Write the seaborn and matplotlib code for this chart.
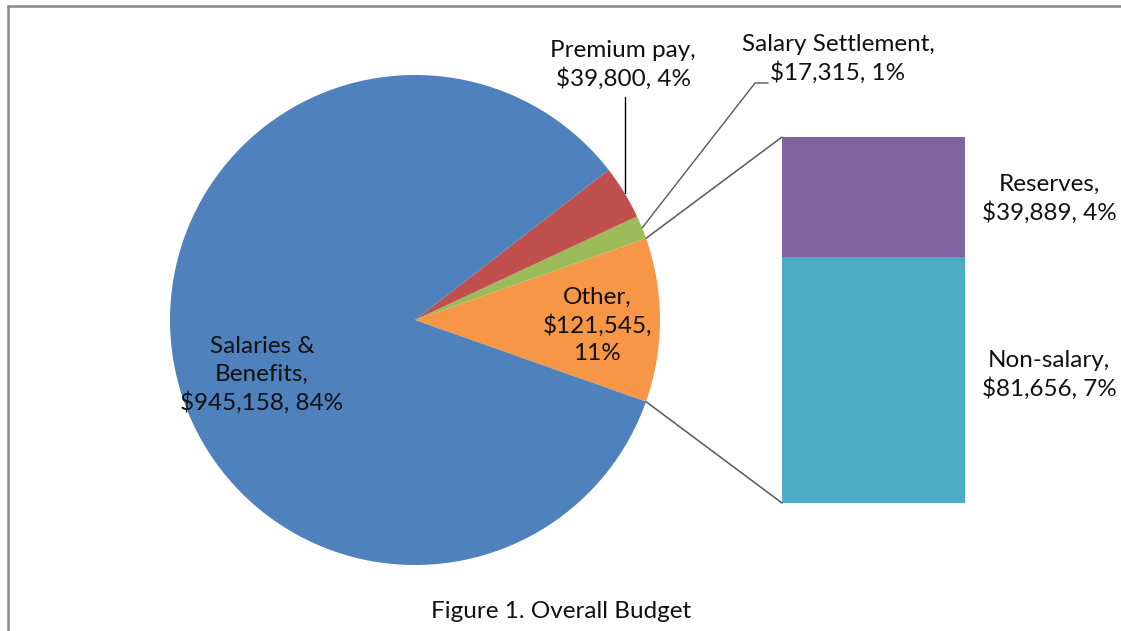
import matplotlib
matplotlib.use("Agg")
import matplotlib.pyplot as plt
from matplotlib.patches import ConnectionPatch
from matplotlib.lines import Line2D
import numpy as np
import pandas as pd
import seaborn as sns

# ---- data ----
pie_labels = ["Other", "Salary Settlement", "Premium pay", "Salaries & Benefits"]
pie_values = [121545, 17315, 39800, 945158]
pie_colors = ["#F79646", "#9BBB59", "#C0504D", "#4F81BD"]

bar_labels = ["Non-salary", "Reserves"]
bar_values = [81656, 39889]
bar_colors = ["#4BACC6", "#8064A2"]

label_texts = {
    "Salaries & Benefits": "Salaries &\nBenefits,\n$945,158, 84%",
    "Premium pay": "Premium pay,\n$39,800, 4%",
    "Salary Settlement": "Salary Settlement,\n$17,315, 1%",
    "Other": "Other,\n$121,545,\n11%",
    "Reserves": "Reserves,\n$39,889, 4%",
    "Non-salary": "Non-salary,\n$81,656, 7%",
}
title_text = "Figure 1. Overall Budget"

sns.set_theme(style="white")
plt.rcParams["font.family"] = ["Lato", "DejaVu Sans"]

W, H = 1121, 631
fig = plt.figure(figsize=(W / 100, H / 100), dpi=100)
fig.patch.set_facecolor("white")

# main axes in pixel coords (y up)
ax = fig.add_axes([0, 0, 1, 1])
ax.set_xlim(0, W)
ax.set_ylim(0, H)
ax.set_axis_off()

def py(y):
    return H - y

total = sum(pie_values)
start = -360.0 * pie_values[0] / total / 2
cx, cy, r = 415, py(320), 245
wedges, _ = ax.pie(pie_values, colors=pie_colors, startangle=start, counterclock=True,
                   center=(cx, cy), radius=r, frame=True,
                   wedgeprops=dict(linewidth=0))
ax.set_xlim(0, W)
ax.set_ylim(0, H)
ax.set_aspect("auto")
ax.set_axis_off()

# bar axes (stacked bar for "Other")
bx0, bx1, by0, by1 = 782, 965, 137, 503
bax = fig.add_axes([bx0 / W, (H - by1) / H, (bx1 - bx0) / W, (by1 - by0) / H])
df_total = pd.DataFrame({"x": ["Other"], "y": [sum(bar_values)]})
df_low = pd.DataFrame({"x": ["Other"], "y": [bar_values[0]]})
sns.barplot(data=df_total, x="x", y="y", color=bar_colors[1], saturation=1, width=1,
            ax=bax, linewidth=0)
sns.barplot(data=df_low, x="x", y="y", color=bar_colors[0], saturation=1, width=1,
            ax=bax, linewidth=0)
bax.set_xlim(-0.5, 0.5)
bax.set_ylim(0, sum(bar_values))
bax.set_axis_off()

# connector lines from "Other" wedge edges to bar corners
w_other = wedges[0]
line_color = "#595959"
for ang, corner in [(w_other.theta2, (0, 1)), (w_other.theta1, (0, 0))]:
    p = (cx + r * np.cos(np.radians(ang)), cy + r * np.sin(np.radians(ang)))
    con = ConnectionPatch(xyA=p, coordsA=ax.transData, xyB=corner, coordsB=bax.transAxes,
                          color=line_color, linewidth=1.1)
    fig.add_artist(con)

# leader lines
ax.add_line(Line2D([625, 625], [py(97), py(193)], color="black", lw=1.0))
ax.add_line(Line2D([768, 755, 642], [py(83), py(83), py(228)], color=line_color, lw=1.0))

fs = 17.5
tc = "#111111"
def put(x, y, s):
    ax.text(x, py(y), s, ha="center", va="center", fontsize=fs, color=tc, linespacing=1.35)

put(262, 375, label_texts["Salaries & Benefits"])
put(623, 65, label_texts["Premium pay"])
put(838, 59, label_texts["Salary Settlement"])
put(597, 325, label_texts["Other"])
put(1049, 199, label_texts["Reserves"])
put(1049, 375, label_texts["Non-salary"])
ax.text(561, py(611), title_text, ha="center", va="center", fontsize=fs, color=tc)

# chart frame (top and left border visible)
fig.add_artist(Line2D([7.5 / W, 1], [py(6) / H, py(6) / H], color="#888888", lw=1.8,
                      transform=fig.transFigure))
fig.add_artist(Line2D([7.5 / W, 7.5 / W], [0, py(6) / H], color="#888888", lw=1.8,
                      transform=fig.transFigure))

fig.savefig("out.png", dpi=100, facecolor="white")
